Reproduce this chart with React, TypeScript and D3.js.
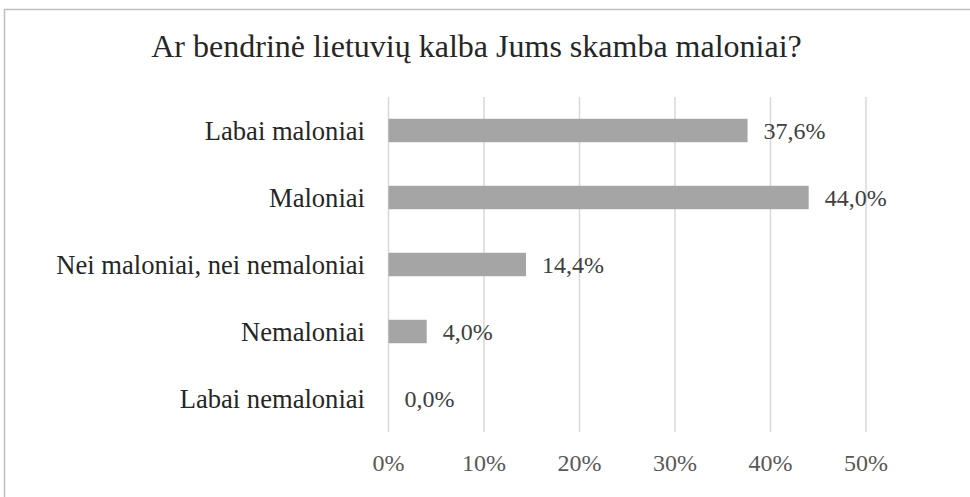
import React from "react";
import * as d3 from "d3";

const categories = ["Labai maloniai", "Maloniai", "Nei maloniai, nei nemaloniai", "Nemaloniai", "Labai nemaloniai"];
const values = [37.6, 44.0, 14.4, 4.0, 0.0];
const ticks = [0, 10, 20, 30, 40, 50];
const title = "Ar bendrinė lietuvių kalba Jums skamba maloniai?";

export default function App() {
  const W = 970, H = 497;
  const font = "'Liberation Serif', 'Times New Roman', serif";
  const x = d3.scaleLinear().domain([0, 50]).range([388.5, 866]);
  const y = d3.scaleBand().domain(categories).range([97, 432]).paddingInner(0.65).paddingOuter(0.325);
  const fmt = (v: number) => v.toFixed(1).replace(".", ",") + "%";
  return (
    <svg width={W} height={H} style={{ position: "absolute", left: 0, top: 0, background: "#fff" }}>
      <rect x={4.5} y={9.5} width={1100} height={700} fill="#fff" stroke="#bfbfbf" strokeWidth={1.5} />
      <text x={476.5} y={57} textAnchor="middle" fontFamily={font} fontSize={32} fill="#262626">{title}</text>
      {ticks.map((t) => (
        <line key={"g" + t} x1={x(t)} x2={x(t)} y1={97} y2={432} stroke="#d9d9d9" strokeWidth={1.5} />
      ))}
      {ticks.map((t) => (
        <text key={"t" + t} x={x(t)} y={463} textAnchor="middle" dominantBaseline="central" fontFamily={font} fontSize={24} fill="#595959">{t + "%"}</text>
      ))}
      {categories.map((c, i) => {
        const yc = (y(c) as number) + y.bandwidth() / 2;
        return (
          <g key={c}>
            <text x={365} y={yc} textAnchor="end" dominantBaseline="central" fontFamily={font} fontSize={26.6} fill="#262626">{c}</text>
            {values[i] > 0 && (
              <rect x={x(0)} y={y(c)} width={x(values[i]) - x(0)} height={y.bandwidth()} fill="#a5a5a5" />
            )}
            <text x={x(values[i]) + 16} y={yc} textAnchor="start" dominantBaseline="central" fontFamily={font} fontSize={24} fill="#404040">{fmt(values[i])}</text>
          </g>
        );
      })}
    </svg>
  );
}
